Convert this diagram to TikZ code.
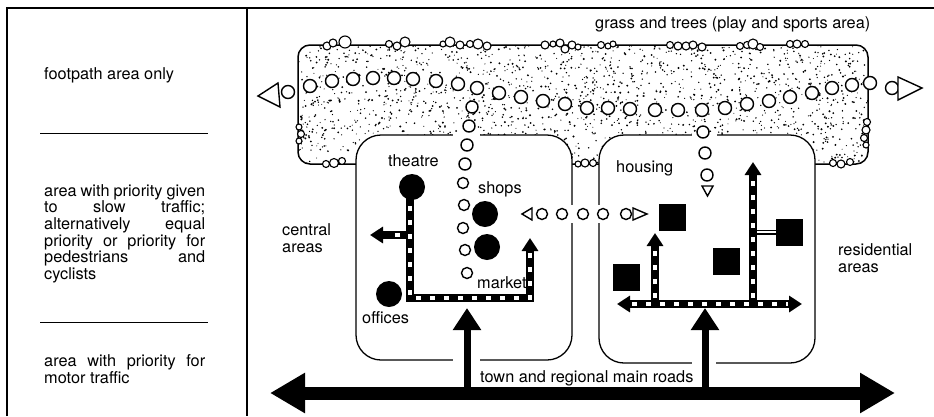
\documentclass[tikz,border=0pt]{standalone}
\usepackage{fontspec}
\setmainfont{TeX Gyre Heros}
\usetikzlibrary{arrows.meta,positioning}
\newcommand{\jline}[1]{\makebox[161pt][s]{#1}}

\begin{document}
\begin{tikzpicture}[x=1pt,y=-1pt,
    lbl/.style={anchor=base west,inner sep=0pt,font=\fontsize{16.3}{16.7}\selectfont},
    fpath/.style={draw,fill=white,line width=1.4pt},
    tree/.style={draw,fill=white,line width=1.1pt},
    area/.style={draw,fill=white,line width=1.3pt,rounded corners=25pt},
    spot/.style={circle,fill=black,inner sep=0pt,minimum size=26pt},
    bld/.style={fill=black,inner sep=0pt,minimum size=27pt},
    road/.style={line width=8pt,line join=miter},
    roadmark/.style={white,line width=3.5pt,dash pattern=on 5pt off 9pt},
    tip/.style={-{Triangle[length=13pt,width=16pt]}},
    mainroad/.style={line width=7pt,-{Triangle[length=22pt,width=27pt]}}]
  \useasboundingbox (0,0) rectangle (934,416);

  % legend panel
  \draw[line width=1.2pt] (7,416) -- (7,8) -- (934,8);
  \draw[line width=1.2pt] (247,8) -- (247,416);
  \node[lbl] (foot) at (44,79) {footpath area only};
  \draw[line width=1pt] (40,133) -- (208,133);
  % multi-line nodes sit on their last baseline
  \node[lbl,align=left] (slow) at (44,279.5) {\jline{area with priority given}\\
    \jline{to slow traffic;}\\ \jline{alternatively equal}\\
    \jline{priority or priority for}\\ \jline{pedestrians and}\\ cyclists};
  \draw[line width=1pt] (40,322) -- (208,322);
  \node[lbl,align=left] (motor) at (44,383) {\jline{area with priority for}\\ motor traffic};

  % grass and trees
  \fill[white,rounded corners=12pt] (298,45) rectangle (868,164);
  \begin{scope}
    \clip[rounded corners=12pt] (298,45) rectangle (868,164);
    \pgfmathsetseed{11}
    \foreach \i in {1,...,1900}{
      \pgfmathsetmacro{\px}{298+570*rnd}
      \pgfmathsetmacro{\py}{45+119*rnd}
      \pgfmathsetmacro{\pr}{0.5+0.6*rnd}
      \fill (\px,\py) circle (\pr pt);
    }
  \end{scope}
  \draw[line width=1.5pt,rounded corners=12pt] (298,45) rectangle (868,164);
  \foreach \x/\y/\r in {327/46/4,333/43/4,345/42/6,389/44/3.5,397/46/4,405/42/5,
      443/44/3,450/42/5,460/45/4,470/44/3.5,478/44/5,487/46/4,
      545/45/4,553/44/3,560/43/4,565/49/4,572/45/4,578/47/3,
      601/45/3.5,608/46/3,613/44/3,670/45/3.5,678/46/4,686/46/4,693/45/4,702/47/4,
      740/46/3.5,747/45/3.5,753/44/5,760/47/3.5,790/44/3.5,797/44/4,805/44/3.5,
      867/122/3.5,866/130/4,864/138/3.5,866/145/3,833/163/3.5,841/164/4,850/162/3.5,
      299/127/3,301/134/3.5,299/141/3,326/164/3.5,334/163/4.5,342/161/3.5,
      578/164/3,585/163/4,593/163/3.5}
    \draw[tree] (\x,\y) circle (\r pt);

  % central and residential areas
  \draw[area] (356,135) rectangle (572,360);
  \draw[area] (599,135) rectangle (815,363);
  \fill[white] (453,132) rectangle (480,138);
  \fill[white] (692,132) rectangle (717,138);
  \fill[white] (453,357) rectangle (480,363);
  \fill[white] (692,360) rectangle (716,366);
  \fill[white] (569,205) rectangle (575,223);
  \fill[white] (596,205) rectangle (602,223);

  % main roads
  \coordinate (rl) at (270,393);
  \coordinate (rr) at (895,393);
  \draw[line width=13pt,{Triangle[length=35pt,width=38pt]}-{Triangle[length=35pt,width=38pt]}] (rl) -- (rr);
  \draw[mainroad] (467,393) -- (467,308);
  \draw[mainroad] (705,393) -- (705,308);

  % central area roads
  \node[spot] (theatre) at (412,187) {};
  \node[spot] (shop1) at (485,214) {};
  \node[spot] (shop2) at (487,247) {};
  \node[spot] (office) at (389,294) {};
  \coordinate (cj) at (410,298);
  \coordinate (ce) at (530,298);
  \coordinate (ct) at (530,238);
  \coordinate (cb) at (410,235);
  \coordinate (cw) at (370,235);
  \draw[road,tip] (410,195) -- (cj) -- (ce) -- (ct);
  \draw[road,tip] (cb) -- (cw);
  \draw[roadmark] (410,206) -- (cj) -- (ce) -- (530,252);
  \draw[roadmark] (400,235) -- (386,235);

  % residential roads
  \node[bld] (h1) at (672.5,217.5) {};
  \node[bld] (h2) at (789.5,232) {};
  \node[bld] (h3) at (726,261.5) {};
  \node[bld] (h4) at (626,277) {};
  \coordinate (hw) at (617,304);
  \coordinate (he) at (802,304);
  \coordinate (hl) at (655,304);
  \coordinate (hr) at (753,304);
  \draw[road,{Triangle[length=13pt,width=16pt]}-{Triangle[length=13pt,width=16pt]}] (hw) -- (he);
  \draw[road,tip] (hl) -- (655,233);
  \draw[road,tip] (hr) -- (753,162);
  \draw[line width=5pt] (hr |- h2) -- (h2.west);
  \draw[white,line width=1.8pt] (757,232) -- (h2.west);
  \draw[roadmark] (632,304) -- (788,304);
  \draw[roadmark] (655,298) -- (655,248);
  \draw[roadmark] (753,298) -- (753,178);

  % footpaths
  \foreach \x/\y in {288/92,310/86,332/81,353/79,373/78,394/78,413/79,436/81,458/84,
      477/88,499/93,521/97,543/101,565/104,587/108,608/108,630/109,655/110,678/110,
      702/110,725/108,747/104,769/101,790/97,812/93,832/88,852/85,870/83,892/88}
    \draw[fpath] (\x,\y) circle (6.5pt);
  \foreach \x/\y in {472/107,469/126,467/145,465/164,703/132,705/153,707/175}
    \draw[fpath] (\x,\y) circle (6pt);
  \foreach \x/\y in {463/183,464/205,463/228,465/250,467/273,
      542/214,562/214,583/214,603/214,626/214}
    \draw[fpath] (\x,\y) circle (5.5pt);
  \draw[fpath] (258,96) -- (278,83) -- (280,107) -- cycle;
  \draw[fpath] (898,77) -- (922,88) -- (898,100) -- cycle;
  \draw[fpath] (522,214) -- (532,208) -- (532,220) -- cycle;
  \draw[fpath] (633,208) -- (647,214) -- (633,220) -- cycle;
  \draw[fpath] (702,186) -- (713,186) -- (707.5,196) -- cycle;

  % labels
  \node[lbl] (grass) at (595,28) {grass and trees (play and sports area)};
  \node[lbl] (theatrelbl) at (388,166) {theatre};
  \node[lbl] (shops) at (478,193) {shops};
  \node[lbl] (market) at (477,288) {market};
  \node[lbl] (offices) at (362,323) {offices};
  \node[lbl,align=left] (central) at (282,252) {central\\areas};
  \node[lbl] (housing) at (616,172) {housing};
  \node[lbl,align=left] (resid) at (838,272) {residential\\areas};
  \node[lbl] (mainroads) at (480,382) {town and regional main roads};
\end{tikzpicture}
\end{document}
